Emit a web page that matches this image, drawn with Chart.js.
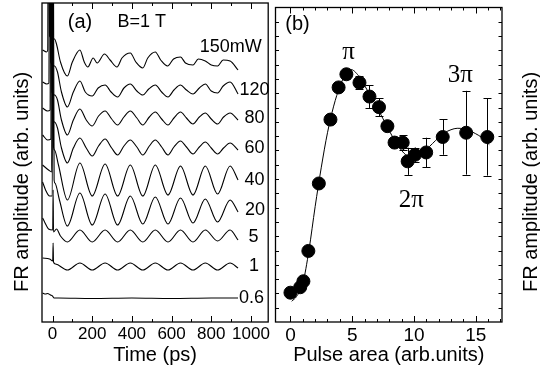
<!DOCTYPE html>
<html><head><meta charset="utf-8">
<script src="https://cdn.jsdelivr.net/npm/chart.js@4/dist/chart.umd.min.js"></script>
<style>
html,body{margin:0;padding:0;background:#fff;}
#wrap{position:relative;width:540px;height:373px;overflow:hidden;background:#fff;}
canvas{position:absolute;top:0;}
#ca{left:0;}
#cb{left:268px;}
</style></head><body>
<div id="wrap"><canvas id="ca" width="272" height="373"></canvas><canvas id="cb" width="272" height="373"></canvas></div>
<script>
// ---------- Panel (a): FR traces vs time (ps), [time, amplitude] ----------
const trace150 = [[-50,27.2],[-30,27.0],[-24,27.2],[-22,40],[-19,40],[-15,28.6],[10,28.3],[20,27.8],[40,26.0],[75,24.6],[100,26.0],[138,27.2],[160,26.0],[178,25.5],[205,26.4],[225,25.9],[262,26.8],[290,26.2],[325,25.5],[350,26.4],[392,26.9],[420,26.0],[455,25.4],[480,26.4],[518,27.0],[545,26.2],[580,25.6],[610,26.3],[645,26.5],[670,25.9],[708,25.7],[735,26.3],[770,26.1],[800,25.7],[832,25.6],[860,26.2],[895,26.1],[935,25.2]];
const trace120 = [[-50,24.0],[-30,23.8],[-18,23.9],[-16,40],[-13,40],[-9,26.0],[10,25.6],[25,25.0],[45,23.0],[75,21.5],[105,23.0],[138,24.1],[165,23.0],[200,22.6],[230,23.4],[265,23.7],[295,23.0],[328,22.5],[360,23.4],[392,23.8],[425,23.1],[455,22.7],[485,23.3],[518,23.7],[550,23.0],[582,22.5],[612,23.2],[645,23.7],[675,23.2],[708,22.8],[740,23.4],[770,23.8],[800,23.1],[832,22.9],[860,23.6],[895,24.0],[935,22.8]];
const trace80 = [[-50,21.4],[-25,21.1],[-12,21.2],[-10,40],[-7,40],[-3,23.0],[10,22.7],[25,22.2],[45,20.2],[75,18.7],[105,20.2],[138,21.3],[170,20.2],[200,19.6],[232,20.6],[265,21.1],[298,20.3],[328,19.7],[360,20.5],[392,21.1],[425,20.4],[455,19.7],[488,20.5],[518,21.0],[550,20.3],[582,19.7],[612,20.4],[645,21.0],[675,20.4],[708,19.8],[740,20.5],[770,20.9],[800,20.3],[832,19.8],[862,20.5],[895,20.9],[935,20.2]];
const trace60 = [[-50,18.7],[-25,18.2],[-8,18.3],[-6,40],[-3,40],[1,20.3],[10,20.0],[25,19.4],[45,17.4],[75,15.9],[105,17.4],[138,18.4],[170,17.4],[200,16.6],[232,17.6],[265,18.3],[298,17.4],[328,16.7],[360,17.6],[392,18.2],[425,17.5],[455,16.7],[488,17.6],[518,18.2],[550,17.5],[582,16.7],[612,17.5],[645,18.1],[675,17.5],[708,16.8],[740,17.5],[770,18.0],[800,17.4],[832,16.8],[862,17.4],[895,17.9],[935,17.2]];
const trace40 = [[-50,15.7],[-20,15.2],[-4,15.0],[-2,40],[1,40],[5,17.5],[10,17.2],[30,15.7],[75,12.2],[138,15.9],[200,12.6],[265,15.8],[328,12.6],[392,15.7],[455,12.6],[518,15.7],[582,12.7],[645,15.6],[708,12.7],[770,15.6],[832,12.8],[895,15.6],[935,14.2]];
const trace20 = [[-50,14.0],[-35,13.2],[-15,12.6],[-1,12.6],[1,40],[4,40],[8,14.2],[12,13.9],[35,12.2],[75,9.6],[138,12.9],[200,9.7],[265,12.8],[328,9.7],[392,12.6],[455,9.8],[518,12.5],[582,9.8],[645,12.4],[708,9.9],[770,12.3],[832,10.0],[895,12.2],[935,11.0]];
const trace5 = [[-50,10.4],[-40,10.0],[-20,9.3],[1,9.2],[3,13.2],[5,9.0],[20,9.3],[40,8.6],[75,8.0],[138,9.2],[200,8.0],[265,9.2],[328,8.0],[392,9.2],[455,8.0],[518,9.2],[582,8.0],[645,9.2],[708,8.0],[770,9.2],[832,8.1],[895,9.2],[935,8.2]];
const trace1 = [[-50,6.4],[-15,6.3],[1,6.1],[3,7.9],[5,6.0],[15,5.8],[75,5.2],[138,5.9],[200,5.2],[265,5.9],[328,5.2],[392,5.9],[455,5.2],[518,5.9],[582,5.2],[645,5.9],[708,5.2],[770,5.9],[832,5.2],[895,5.9],[935,5.4]];
const trace06 = [[-50,2.9],[-35,2.8],[-25,2.85],[-10,2.7],[0,2.6],[8,2.4],[30,2.4],[200,2.35],[400,2.4],[600,2.35],[800,2.4],[935,2.4]];
const traces = [trace150, trace120, trace80, trace60, trace40, trace20, trace5, trace1, trace06];
const powerLabels = ['150mW','120','80','60','40','20','5','1','0.6'];
const timeTicks = [0,200,400,600,800,1000];
const timeMinor = [100,300,500,700,900];

// ---------- Panel (b): FR amplitude vs pulse area ----------
const pulseArea = [0,0.79,1.05,1.45,2.3,3.24,3.9,4.53,5.59,6.4,7.17,7.85,8.43,9.09,9.49,10.09,10.99,12.33,14.23,15.94];
const frAmp     = [2.05,2.43,2.85,4.97,9.69,14.16,16.41,17.33,16.74,15.77,15.03,13.70,12.55,12.55,11.24,11.70,11.86,12.94,13.24,12.94];
const frErr     = [0,0,0,0,0,0,0,0.3,0.45,0.8,0.62,0.3,0.3,0.52,0.95,0.5,1.03,1.24,2.93,2.7];
const fitX = [0.1,0.5,1,1.5,2,2.5,3,3.5,4,4.5,4.9,5.5,6,6.5,7,7.5,8,8.5,9,9.4,9.8,10.5,11,11.5,12,12.5,13,13.5,14,14.5,15,15.5,16.1];
const fitY = [1.45,1.79,2.69,5.03,8.07,10.83,13.24,15.10,16.48,17.38,17.66,17.24,16.55,15.79,15.03,14.21,13.38,12.62,12.0,11.66,11.59,11.79,12.07,12.48,12.90,13.24,13.45,13.55,13.52,13.38,13.17,12.90,12.41];
const areaTicks = [0,5,10,15];
const areaMinor = [1,2,3,4,6,7,8,9,11,12,13,14,16,17];
const ampTicksB = [1,2,3,4,5,6,7,8,9,10,11,12,13,14,15,16,17,18,19,20,21];

const SANS = '"Liberation Sans", Arial, sans-serif';
const SERIF = '"Liberation Serif", "Times New Roman", serif';

function framePlugin(cfg){
  return {
    id:'frame',
    afterDatasetsDraw(chart){
      const {ctx, chartArea:a, scales:{x,y}} = chart;
      ctx.save();
      ctx.strokeStyle='#000';
      ctx.lineWidth=1;
      ctx.beginPath();
      const vx=(v,len)=>{const p=Math.round(x.getPixelForValue(v))+0.5;
        ctx.moveTo(p,a.bottom);ctx.lineTo(p,a.bottom-len);
        ctx.moveTo(p,a.top);ctx.lineTo(p,a.top+len);};
      cfg.xMajor.forEach(v=>vx(v,6));
      cfg.xMinor.forEach(v=>vx(v,3));
      (cfg.yTicks||[]).forEach(v=>{const p=Math.round(y.getPixelForValue(v))+0.5;
        ctx.moveTo(a.left,p);ctx.lineTo(a.left+3.5,p);
        ctx.moveTo(a.right,p);ctx.lineTo(a.right-3.5,p);});
      ctx.stroke();
      ctx.lineWidth=1.3;
      ctx.strokeRect(a.left,a.top,a.right-a.left,a.bottom-a.top);
      ctx.restore();
    }
  };
}
function textPlugin(items, vtitle){
  return {
    id:'texts',
    afterDraw(chart){
      const {ctx, scales:{x,y}} = chart;
      ctx.save(); ctx.fillStyle='#000'; ctx.textBaseline='middle';
      items.forEach(it=>{ctx.font=it.font;ctx.textAlign=it.align||'left';
        ctx.fillText(it.text, x.getPixelForValue(it.x), y.getPixelForValue(it.y));});
      if(vtitle){
        ctx.translate(vtitle.px, vtitle.py); ctx.rotate(-Math.PI/2);
        ctx.font='20px '+SANS; ctx.textAlign='center';
        ctx.fillText(vtitle.text,0,0);
      }
      ctx.restore();
    }
  };
}
const errPlugin = {
  id:'errbars',
  beforeDatasetsDraw(chart){
    const {ctx, scales:{x,y}} = chart;
    ctx.save(); ctx.strokeStyle='#000'; ctx.lineWidth=1; ctx.beginPath();
    pulseArea.forEach((p,i)=>{
      if(!frErr[i]) return;
      const px=Math.round(x.getPixelForValue(p))+0.5;
      const y1=y.getPixelForValue(frAmp[i]+frErr[i]), y2=y.getPixelForValue(frAmp[i]-frErr[i]);
      ctx.moveTo(px,y1);ctx.lineTo(px,y2);
      ctx.moveTo(px-4,Math.round(y1)+0.5);ctx.lineTo(px+4,Math.round(y1)+0.5);
      ctx.moveTo(px-4,Math.round(y2)+0.5);ctx.lineTo(px+4,Math.round(y2)+0.5);
    });
    ctx.stroke(); ctx.restore();
  }
};

// ----- Chart (a) -----
const labelA = [
  {text:'(a)', x:77, y:30, font:'20px '+SANS},
  {text:'B=1 T', x:327, y:30, font:'18px '+SANS},
  {text:powerLabels[0], x:742, y:27.5, font:'18px '+SANS},
  {text:powerLabels[1], x:942, y:23.2, font:'18px '+SANS},
  {text:powerLabels[2], x:967, y:20.4, font:'18px '+SANS},
  {text:powerLabels[3], x:967, y:17.4, font:'18px '+SANS},
  {text:powerLabels[4], x:967, y:14.2, font:'18px '+SANS},
  {text:powerLabels[5], x:970, y:11.2, font:'18px '+SANS},
  {text:powerLabels[6], x:988, y:8.5, font:'18px '+SANS},
  {text:powerLabels[7], x:990, y:5.6, font:'18px '+SANS},
  {text:powerLabels[8], x:940, y:2.4, font:'18px '+SANS}
];
new Chart(document.getElementById('ca'), {
  type:'line',
  data:{datasets: traces.map(tr=>({
    data: tr.map(p=>({x:p[0], y:p[1]})),
    borderColor:'#000', borderWidth:1.1, pointRadius:0, fill:false,
    cubicInterpolationMode:'monotone'
  }))},
  options:{
    responsive:false, animation:false, events:[],
    layout:{padding:{left:42, right:2, top:3, bottom:0}},
    plugins:{legend:{display:false}, tooltip:{enabled:false}},
    scales:{
      x:{type:'linear', min:-53, max:1087,
        afterBuildTicks(s){ s.ticks = timeTicks.map(v=>({value:v})); },
        afterFit(s){ s.height = 51; },
        grid:{display:false, drawTicks:false}, border:{display:false},
        ticks:{color:'#000', font:{family:SANS, size:17}, padding:2, maxRotation:0, autoSkip:false, callback:v=>String(v)},
        title:{display:true, text:'Time (ps)', color:'#000', font:{family:SANS, size:20}, padding:{top:0,bottom:5.5}}
      },
      y:{display:false, min:0, max:31.9}
    }
  },
  plugins:[framePlugin({xMajor:timeTicks, xMinor:timeMinor}), textPlugin(labelA, {text:'FR amplitude (arb. units)', px:22, py:182})]
});

// ----- Chart (b) -----
const labelB = [
  {text:'(b)', x:-0.42, y:20.8, font:'20px '+SANS},
  {text:'\u03c0', x:4.7, y:18.83, font:'25px '+SERIF, align:'center'},
  {text:'3\u03c0', x:13.75, y:17.25, font:'25px '+SERIF, align:'center'},
  {text:'2\u03c0', x:9.78, y:8.48, font:'25px '+SERIF, align:'center'}
];
new Chart(document.getElementById('cb'), {
  type:'line',
  data:{datasets:[
    {data: fitX.map((v,i)=>({x:v, y:fitY[i]})), borderColor:'#000', borderWidth:1, pointRadius:0, fill:false, cubicInterpolationMode:'monotone'},
    {data: pulseArea.map((v,i)=>({x:v, y:frAmp[i]})), showLine:false, pointRadius:6.5, pointBackgroundColor:'#000', pointBorderColor:'#000', pointBorderWidth:1}
  ]},
  options:{
    responsive:false, animation:false, events:[],
    layout:{padding:{left:2, right:38, top:3, bottom:0}},
    plugins:{legend:{display:false}, tooltip:{enabled:false}},
    scales:{
      x:{type:'linear', min:-1.21, max:17.13,
        afterBuildTicks(s){ s.ticks = areaTicks.map(v=>({value:v})); },
        afterFit(s){ s.height = 51; },
        grid:{display:false, drawTicks:false}, border:{display:false},
        ticks:{color:'#000', font:{family:SANS, size:19}, padding:2.5, maxRotation:0, autoSkip:false, callback:v=>String(v)},
        title:{display:true, text:'Pulse area (arb.units)', color:'#000', font:{family:SANS, size:20}, padding:{top:0,bottom:5.5}}
      },
      y:{display:false, min:0, max:22}
    }
  },
  plugins:[errPlugin, framePlugin({xMajor:areaTicks, xMinor:areaMinor, yTicks:ampTicksB}), textPlugin(labelB, {text:'FR amplitude (arb. units)', px:263, py:182})]
});
</script></body></html>
